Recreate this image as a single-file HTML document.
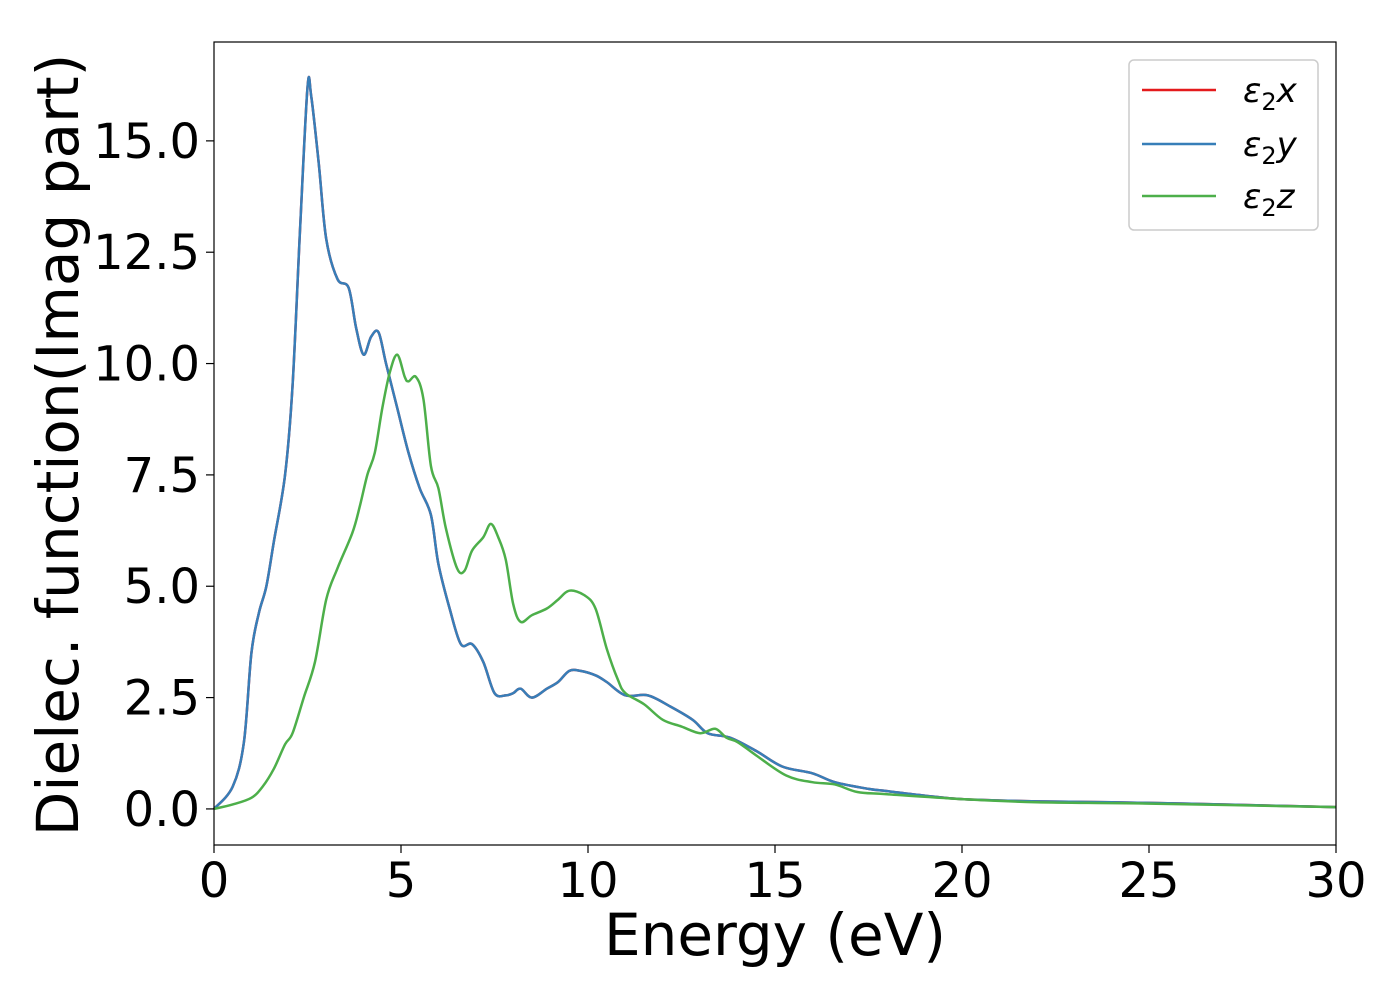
<!DOCTYPE html>
<html><head><meta charset="utf-8"><style>
body{margin:0;background:#fff;}
svg text{font-family:"DejaVu Sans","Liberation Sans",sans-serif;}
</style></head><body>
<svg id="chart" width="1400" height="1000" viewBox="0 0 1400 1000" xmlns="http://www.w3.org/2000/svg">
<rect x="0" y="0" width="1400" height="1000" fill="#fff"/>
<g id="plot"></g>
<g id="axes"></g>
<text x="775" y="955" font-size="58" text-anchor="middle">Energy (eV)</text>
<text transform="translate(78,445) rotate(-90)" font-size="58" text-anchor="middle">Dielec. function(Imag part)</text>
<g>
<rect x="1129" y="60" width="189" height="170" rx="5" fill="#fff" stroke="#ccc" stroke-width="1.5"/>
<line x1="1142" y1="90" x2="1216" y2="90" stroke="#e41a1c" stroke-width="2.5"/>
<text x="1243" y="102" font-size="34" font-style="italic">ε<tspan font-size="24" dy="8" font-style="normal">2</tspan><tspan dy="-8">x</tspan></text>
<line x1="1142" y1="144" x2="1216" y2="144" stroke="#377eb8" stroke-width="2.5"/>
<text x="1243" y="156" font-size="34" font-style="italic">ε<tspan font-size="24" dy="8" font-style="normal">2</tspan><tspan dy="-8">y</tspan></text>
<line x1="1142" y1="196" x2="1216" y2="196" stroke="#4daf4a" stroke-width="2.5"/>
<text x="1243" y="208" font-size="34" font-style="italic">ε<tspan font-size="24" dy="8" font-style="normal">2</tspan><tspan dy="-8">z</tspan></text>
</g>
</svg>
<script>
const xyEnergy=[0,0.5,0.8,1.0,1.2,1.4,1.6,1.9,2.1,2.3,2.5,2.6,2.8,3.0,3.3,3.6,3.8,4.0,4.2,4.4,4.6,4.9,5.2,5.5,5.8,6.0,6.3,6.6,6.9,7.2,7.5,7.8,8.0,8.2,8.5,8.9,9.2,9.5,9.8,10.2,10.5,11.0,11.6,12.2,12.8,13.2,13.8,14.5,15.2,16,16.6,17.5,18,19,20,22,24,26,28,30];
const xyValues=[0,0.5,1.5,3.5,4.4,5.0,6.0,7.5,9.5,13,16.2,16.0,14.5,12.8,11.9,11.7,10.8,10.2,10.6,10.7,10.0,9.0,8.0,7.2,6.6,5.5,4.5,3.7,3.7,3.3,2.6,2.55,2.6,2.7,2.5,2.7,2.85,3.1,3.1,3.0,2.85,2.55,2.55,2.3,2.0,1.7,1.6,1.3,0.95,0.8,0.6,0.45,0.4,0.3,0.22,0.17,0.15,0.12,0.08,0.04];
const zEnergy=[0,0.5,1.0,1.3,1.6,1.9,2.1,2.4,2.7,3.0,3.3,3.7,3.9,4.1,4.3,4.5,4.7,4.9,5.1,5.2,5.4,5.6,5.8,6.0,6.2,6.5,6.7,6.9,7.2,7.4,7.6,7.8,8.0,8.2,8.5,8.9,9.2,9.5,9.9,10.2,10.5,10.8,11.0,11.5,12.0,12.5,13.0,13.4,13.7,14.0,14.5,15.3,16,16.6,17.2,18,20,22,25,30];
const zValues=[0,0.1,0.25,0.5,0.9,1.45,1.7,2.5,3.3,4.7,5.4,6.2,6.8,7.5,8.0,9.0,9.8,10.2,9.7,9.6,9.7,9.2,7.7,7.2,6.3,5.4,5.35,5.8,6.1,6.4,6.1,5.6,4.6,4.2,4.35,4.5,4.7,4.9,4.8,4.5,3.6,2.9,2.6,2.35,2.0,1.85,1.7,1.8,1.6,1.5,1.2,0.75,0.6,0.55,0.38,0.33,0.22,0.15,0.12,0.04];
const xTicks=[0,5,10,15,20,25,30];
const yTicks=[0,2.5,5,7.5,10,12.5,15];
const yTickLabels=["0.0","2.5","5.0","7.5","10.0","12.5","15.0"];

const L=214,R=1336,T=42,B=845,X0=0,X1=30,Y0=-0.81,Y1=17.22;
const sx=v=>L+(v-X0)/(X1-X0)*(R-L);
const sy=v=>B-(v-Y0)/(Y1-Y0)*(B-T);
const NS="http://www.w3.org/2000/svg";
const plot=document.getElementById('plot'),axes=document.getElementById('axes');
function mk(tag,attrs,parent){const e=document.createElementNS(NS,tag);for(const k in attrs)e.setAttribute(k,attrs[k]);parent.appendChild(e);return e;}
function pathFor(xs,ys){const p=xs.map((x,i)=>[sx(x),sy(ys[i])]);let d="M"+p[0][0]+","+p[0][1];
for(let i=0;i<p.length-1;i++){const a=p[i-1]||p[i],b=p[i],c=p[i+1],e=p[i+2]||c;
d+=" C"+(b[0]+(c[0]-a[0])/6)+","+(b[1]+(c[1]-a[1])/6)+" "+(c[0]-(e[0]-b[0])/6)+","+(c[1]-(e[1]-b[1])/6)+" "+c[0]+","+c[1];}return d;}
const series=[["series-x",xyEnergy,xyValues,"#e41a1c"],["series-y",xyEnergy,xyValues,"#377eb8"],["series-z",zEnergy,zValues,"#4daf4a"]];
series.forEach(s=>{const el=mk('path',{d:pathFor(s[1],s[2]),fill:"none",stroke:s[3],"stroke-width":2.5},plot);

});
mk('rect',{x:L,y:T,width:R-L,height:B-T,fill:"none",stroke:"#000","stroke-width":1.2},axes);
xTicks.forEach(v=>{mk('line',{x1:sx(v),x2:sx(v),y1:B,y2:B+8,stroke:"#000","stroke-width":1.2},axes);
const t=mk('text',{x:sx(v),y:B+52,"font-size":48,"text-anchor":"middle"},axes);t.textContent=v;

});
yTicks.forEach((v,i)=>{mk('line',{x1:L-8,x2:L,y1:sy(v),y2:sy(v),stroke:"#000","stroke-width":1.2},axes);
const t=mk('text',{x:L-14,y:sy(v)+17,"font-size":48,"text-anchor":"end"},axes);t.textContent=yTickLabels[i];

});
</script>
</body></html>
